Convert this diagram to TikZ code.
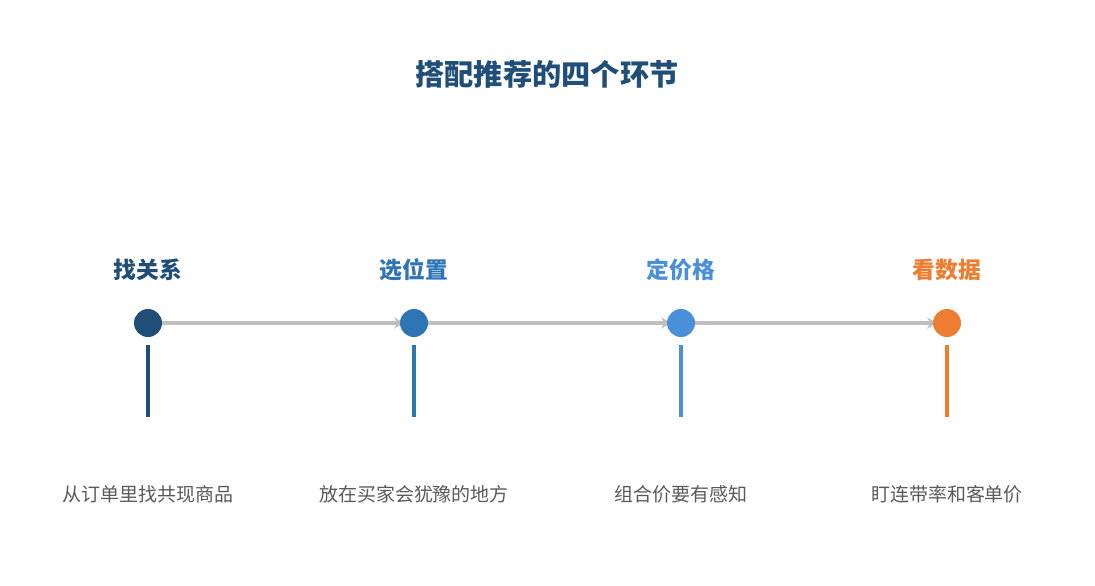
\documentclass[tikz,border=0pt]{standalone}
\usepackage{fontspec}
\newfontfamily\cjk{Noto Sans CJK SC}
\usetikzlibrary{arrows.meta}
\definecolor{stepA}{HTML}{1F4E79}
\definecolor{stepB}{HTML}{2E75B6}
\definecolor{stepC}{HTML}{4A90D9}
\definecolor{stepD}{HTML}{ED7D31}
\definecolor{linkgray}{HTML}{BFBFBF}
\definecolor{notegray}{HTML}{595959}
\pgfdeclarelayer{bg}
\pgfsetlayers{bg,main}
\tikzset{
  dot/.style={circle,inner sep=0pt,minimum size=0.7cm},
  steplabel/.style={font=\cjk\bfseries\fontsize{16.2}{19}\selectfont},
  note/.style={font=\cjk\fontsize{13.5}{16}\selectfont,text=notegray},
  link/.style={draw=linkgray,line width=2.2pt,-{Stealth[length=7pt,width=8pt]},shorten >=-3pt},
  stem/.style={line width=2.8pt}
}
\begin{document}
\begin{tikzpicture}[x=0.025cm,y=-0.025cm]
			\useasboundingbox (0,0) rectangle (1095,585);
			\node[font=\cjk\bfseries\fontsize{20.8}{25}\selectfont,text=stepA] (T) at (547,74) {搭配推荐的四个环节};
			\node[dot,fill=stepA] (A) at (148,323) {};
			\node[dot,fill=stepB] (B) at (414,323) {};
			\node[dot,fill=stepC] (C) at (681,323) {};
			\node[dot,fill=stepD] (D) at (947,323) {};
			\node[steplabel,text=stepA] (LA) at (148,270) {找关系};
			\node[steplabel,text=stepB] (LB) at (414,270) {选位置};
			\node[steplabel,text=stepC] (LC) at (681,270) {定价格};
			\node[steplabel,text=stepD] (LD) at (947,270) {看数据};
			\begin{pgfonlayer}{bg}
			\draw[link] (A) -- (B);
			\draw[link] (B) -- (C);
			\draw[link] (C) -- (D);
			\end{pgfonlayer}
			\coordinate (A1) at (148,345);
			\coordinate (A2) at (148,417);
			\coordinate (B1) at (414,345);
			\coordinate (B2) at (414,417);
			\coordinate (C1) at (681,345);
			\coordinate (C2) at (681,417);
			\coordinate (D1) at (947,345);
			\coordinate (D2) at (947,417);
			\draw[stem,stepA] (A1)--(A2);
			\draw[stem,stepB] (B1)--(B2);
			\draw[stem,stepC] (C1)--(C2);
			\draw[stem,stepD] (D1)--(D2);
			\node[note] (NA) at (148,494) {从订单里找共现商品};
			\node[note] (NB) at (414,494) {放在买家会犹豫的地方};
			\node[note] (NC) at (681,494) {组合价要有感知};
			\node[note] (ND) at (947,494) {盯连带率和客单价};
		\end{tikzpicture}
\end{document}
